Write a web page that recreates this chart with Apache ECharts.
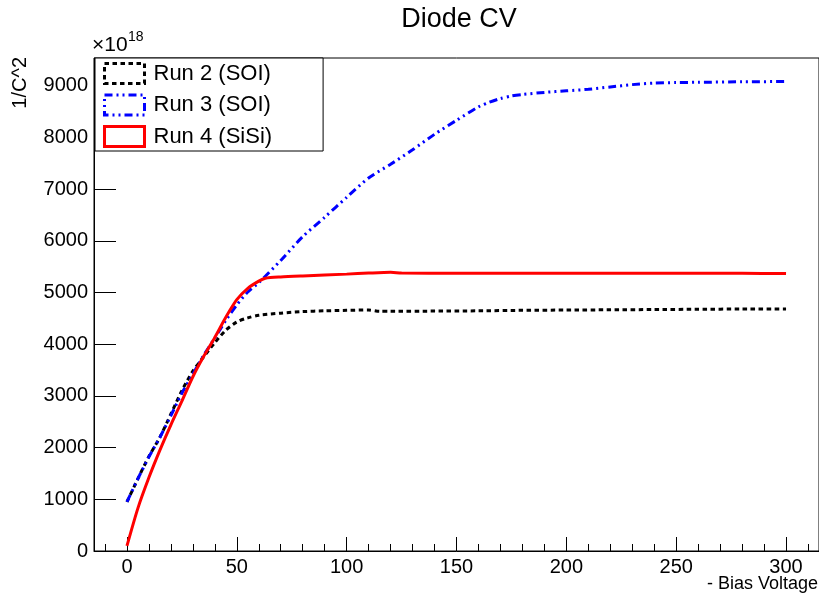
<!DOCTYPE html>
<html>
<head>
<meta charset="utf-8">
<script src="https://cdn.jsdelivr.net/npm/echarts@6/dist/echarts.min.js"></script>
<style>
html,body{margin:0;padding:0;background:#fff;}
#chart{width:819px;height:601px;}
</style>
</head>
<body>
<div id="chart"></div>
<script>
// ---- data (y in units of 1e18) ----
const run2X = [0, 5, 10, 15, 20, 25, 30, 35, 40, 45, 50, 55, 60, 70, 80, 90, 100, 110, 115, 120, 140, 160, 180, 200, 220, 240, 260, 280, 300];
const run2Y = [950, 1400, 1830, 2200, 2650, 3100, 3480, 3760, 4030, 4270, 4430, 4510, 4560, 4600, 4630, 4645, 4655, 4662, 4635, 4635, 4640, 4645, 4655, 4660, 4665, 4670, 4675, 4680, 4680];

const run3X = [0, 5, 10, 15, 20, 25, 30, 35, 40, 45, 50, 55, 60, 70, 80, 90, 100, 110, 120, 130, 140, 150, 160, 165, 170, 175, 180, 190, 200, 210, 220, 230, 240, 250, 260, 280, 300];
const run3Y = [950, 1400, 1820, 2200, 2620, 3050, 3420, 3790, 4120, 4460, 4760, 5010, 5190, 5620, 6080, 6455, 6840, 7215, 7480, 7760, 8060, 8330, 8590, 8680, 8750, 8800, 8830, 8870, 8900, 8930, 8975, 9020, 9050, 9060, 9065, 9075, 9080];

const run4X = [0, 5, 10, 15, 20, 25, 30, 35, 40, 45, 50, 55, 60, 63, 70, 80, 100, 110, 120, 125, 150, 200, 250, 280, 300];
const run4Y = [100, 830, 1420, 1950, 2440, 2900, 3370, 3770, 4130, 4520, 4860, 5080, 5220, 5275, 5300, 5320, 5355, 5375, 5390, 5375, 5370, 5370, 5370, 5370, 5365];

const seriesNames = ['Run 2 (SOI)', 'Run 3 (SOI)', 'Run 4 (SiSi)'];
const xMajorTicks = [0, 50, 100, 150, 200, 250, 300];
const xMinorTicks = [-10, 10, 20, 30, 40, 60, 70, 80, 90, 110, 120, 130, 140, 160, 170, 180, 190, 210, 220, 230, 240, 260, 270, 280, 290, 310];
const yMajorTicks = [0, 1000, 2000, 3000, 4000, 5000, 6000, 7000, 8000, 9000];
const yMinorTicks = [];
for (let v = 200; v < 9535; v += 200) { if (v % 1000 !== 0) yMinorTicks.push(v); }

const FONT = 'Liberation Sans, Arial, Helvetica, sans-serif';
const pairs = (xs, ys) => xs.map((x, i) => [x, ys[i]]);
const plain = v => String(v);

const chart = echarts.init(document.getElementById('chart'), null, {renderer: 'canvas'});
const common = {type: 'value', min: -15, max: 315, splitLine: {show: false}};
const commonY = {type: 'value', min: 0, max: 9535, splitLine: {show: false}};

chart.setOption({
  animation: false,
  backgroundColor: '#fff',
  title: {
    text: 'Diode CV', left: 454, top: 1, textAlign: 'center',
    textStyle: {fontSize: 27, fontWeight: 'normal', color: '#000', fontFamily: FONT}
  },
  grid: {left: 94, top: 58, width: 726, height: 493, show: true, borderColor: '#000', borderWidth: 1, backgroundColor: 'transparent'},
  legend: {
    orient: 'vertical', left: 95, top: 58,
    itemWidth: 40, itemHeight: 20, itemGap: 8.5,
    padding: [4, 51, 3, 8],
    borderColor: '#000', borderWidth: 1, backgroundColor: '#fff', borderRadius: 0,
    textStyle: {fontSize: 22, lineHeight: 22, color: '#000', fontFamily: FONT, padding: [0, 0, 0, 4]},
    data: [
      {name: seriesNames[0], icon: 'rect', itemStyle: {color: 'rgba(0,0,0,0)', borderColor: '#000', borderWidth: 3, borderType: [4.5, 3.5]}},
      {name: seriesNames[1], icon: 'rect', itemStyle: {color: 'rgba(0,0,0,0)', borderColor: '#0000ff', borderWidth: 3, borderType: [8, 4, 2, 4, 2, 4]}},
      {name: seriesNames[2], icon: 'rect', itemStyle: {color: 'rgba(0,0,0,0)', borderColor: '#ff0000', borderWidth: 3}}
    ]
  },
  xAxis: [
    Object.assign({}, common, {
      position: 'bottom',
      axisLine: {show: true, onZero: false, lineStyle: {color: '#000', width: 1}},
      axisTick: {show: true, inside: true, length: 14, customValues: xMajorTicks, lineStyle: {color: '#000', width: 1}},
      axisLabel: {show: true, customValues: xMajorTicks, formatter: plain, fontSize: 20, color: '#000', fontFamily: FONT, margin: 6}
    }),
    Object.assign({}, common, {
      position: 'top', offset: -493,
      axisLine: {show: false},
      axisTick: {show: true, inside: false, length: 7, customValues: xMinorTicks, lineStyle: {color: '#000', width: 1}},
      axisLabel: {show: false}
    })
  ],
  yAxis: [
    Object.assign({}, commonY, {
      position: 'left',
      axisLine: {show: true, onZero: false, lineStyle: {color: '#000', width: 1}},
      axisTick: {show: true, inside: true, length: 22, customValues: yMajorTicks, lineStyle: {color: '#000', width: 1}},
      axisLabel: {show: true, customValues: yMajorTicks, formatter: plain, fontSize: 20, color: '#000', fontFamily: FONT, margin: 6}
    }),
    Object.assign({}, commonY, {
      position: 'right', offset: -726,
      axisLine: {show: false},
      axisTick: {show: true, inside: false, length: 11, customValues: yMinorTicks, lineStyle: {color: '#000', width: 1}},
      axisLabel: {show: false}
    })
  ],
  graphic: [
    {type: 'text', x: 92, y: 56, style: {text: '\u00d710', font: '21px Liberation Sans, Arial, sans-serif', fill: '#000', verticalAlign: 'bottom'}},
    {type: 'text', x: 128, y: 44, style: {text: '18', font: '14px Liberation Sans, Arial, sans-serif', fill: '#000', verticalAlign: 'bottom'}},
    {type: 'text', x: 20, y: 57, rotation: Math.PI / 2,
      style: {text: '1/C^2', font: '20px Liberation Sans, Arial, sans-serif', fill: '#000', align: 'right', verticalAlign: 'middle'}},
    {type: 'text', x: 818, y: 584,
      style: {text: '- Bias Voltage', font: '18px Liberation Sans, Arial, sans-serif', fill: '#000', align: 'right', verticalAlign: 'middle'}}
  ],
  series: [
    {name: seriesNames[0], type: 'line', xAxisIndex: 0, yAxisIndex: 0, data: pairs(run2X, run2Y),
      showSymbol: false, smooth: 0.25, color: '#000',
      lineStyle: {color: '#000', width: 3, type: [4.5, 3.5]}},
    {name: seriesNames[1], type: 'line', xAxisIndex: 0, yAxisIndex: 0, data: pairs(run3X, run3Y),
      showSymbol: false, smooth: 0.25, color: '#0000ff',
      lineStyle: {color: '#0000ff', width: 3, type: [8, 4, 2, 4, 2, 4]}},
    {name: seriesNames[2], type: 'line', xAxisIndex: 0, yAxisIndex: 0, data: pairs(run4X, run4Y),
      showSymbol: false, smooth: 0.25, color: '#ff0000',
      lineStyle: {color: '#ff0000', width: 3, type: 'solid'}}
  ]
});
</script>
</body>
</html>
